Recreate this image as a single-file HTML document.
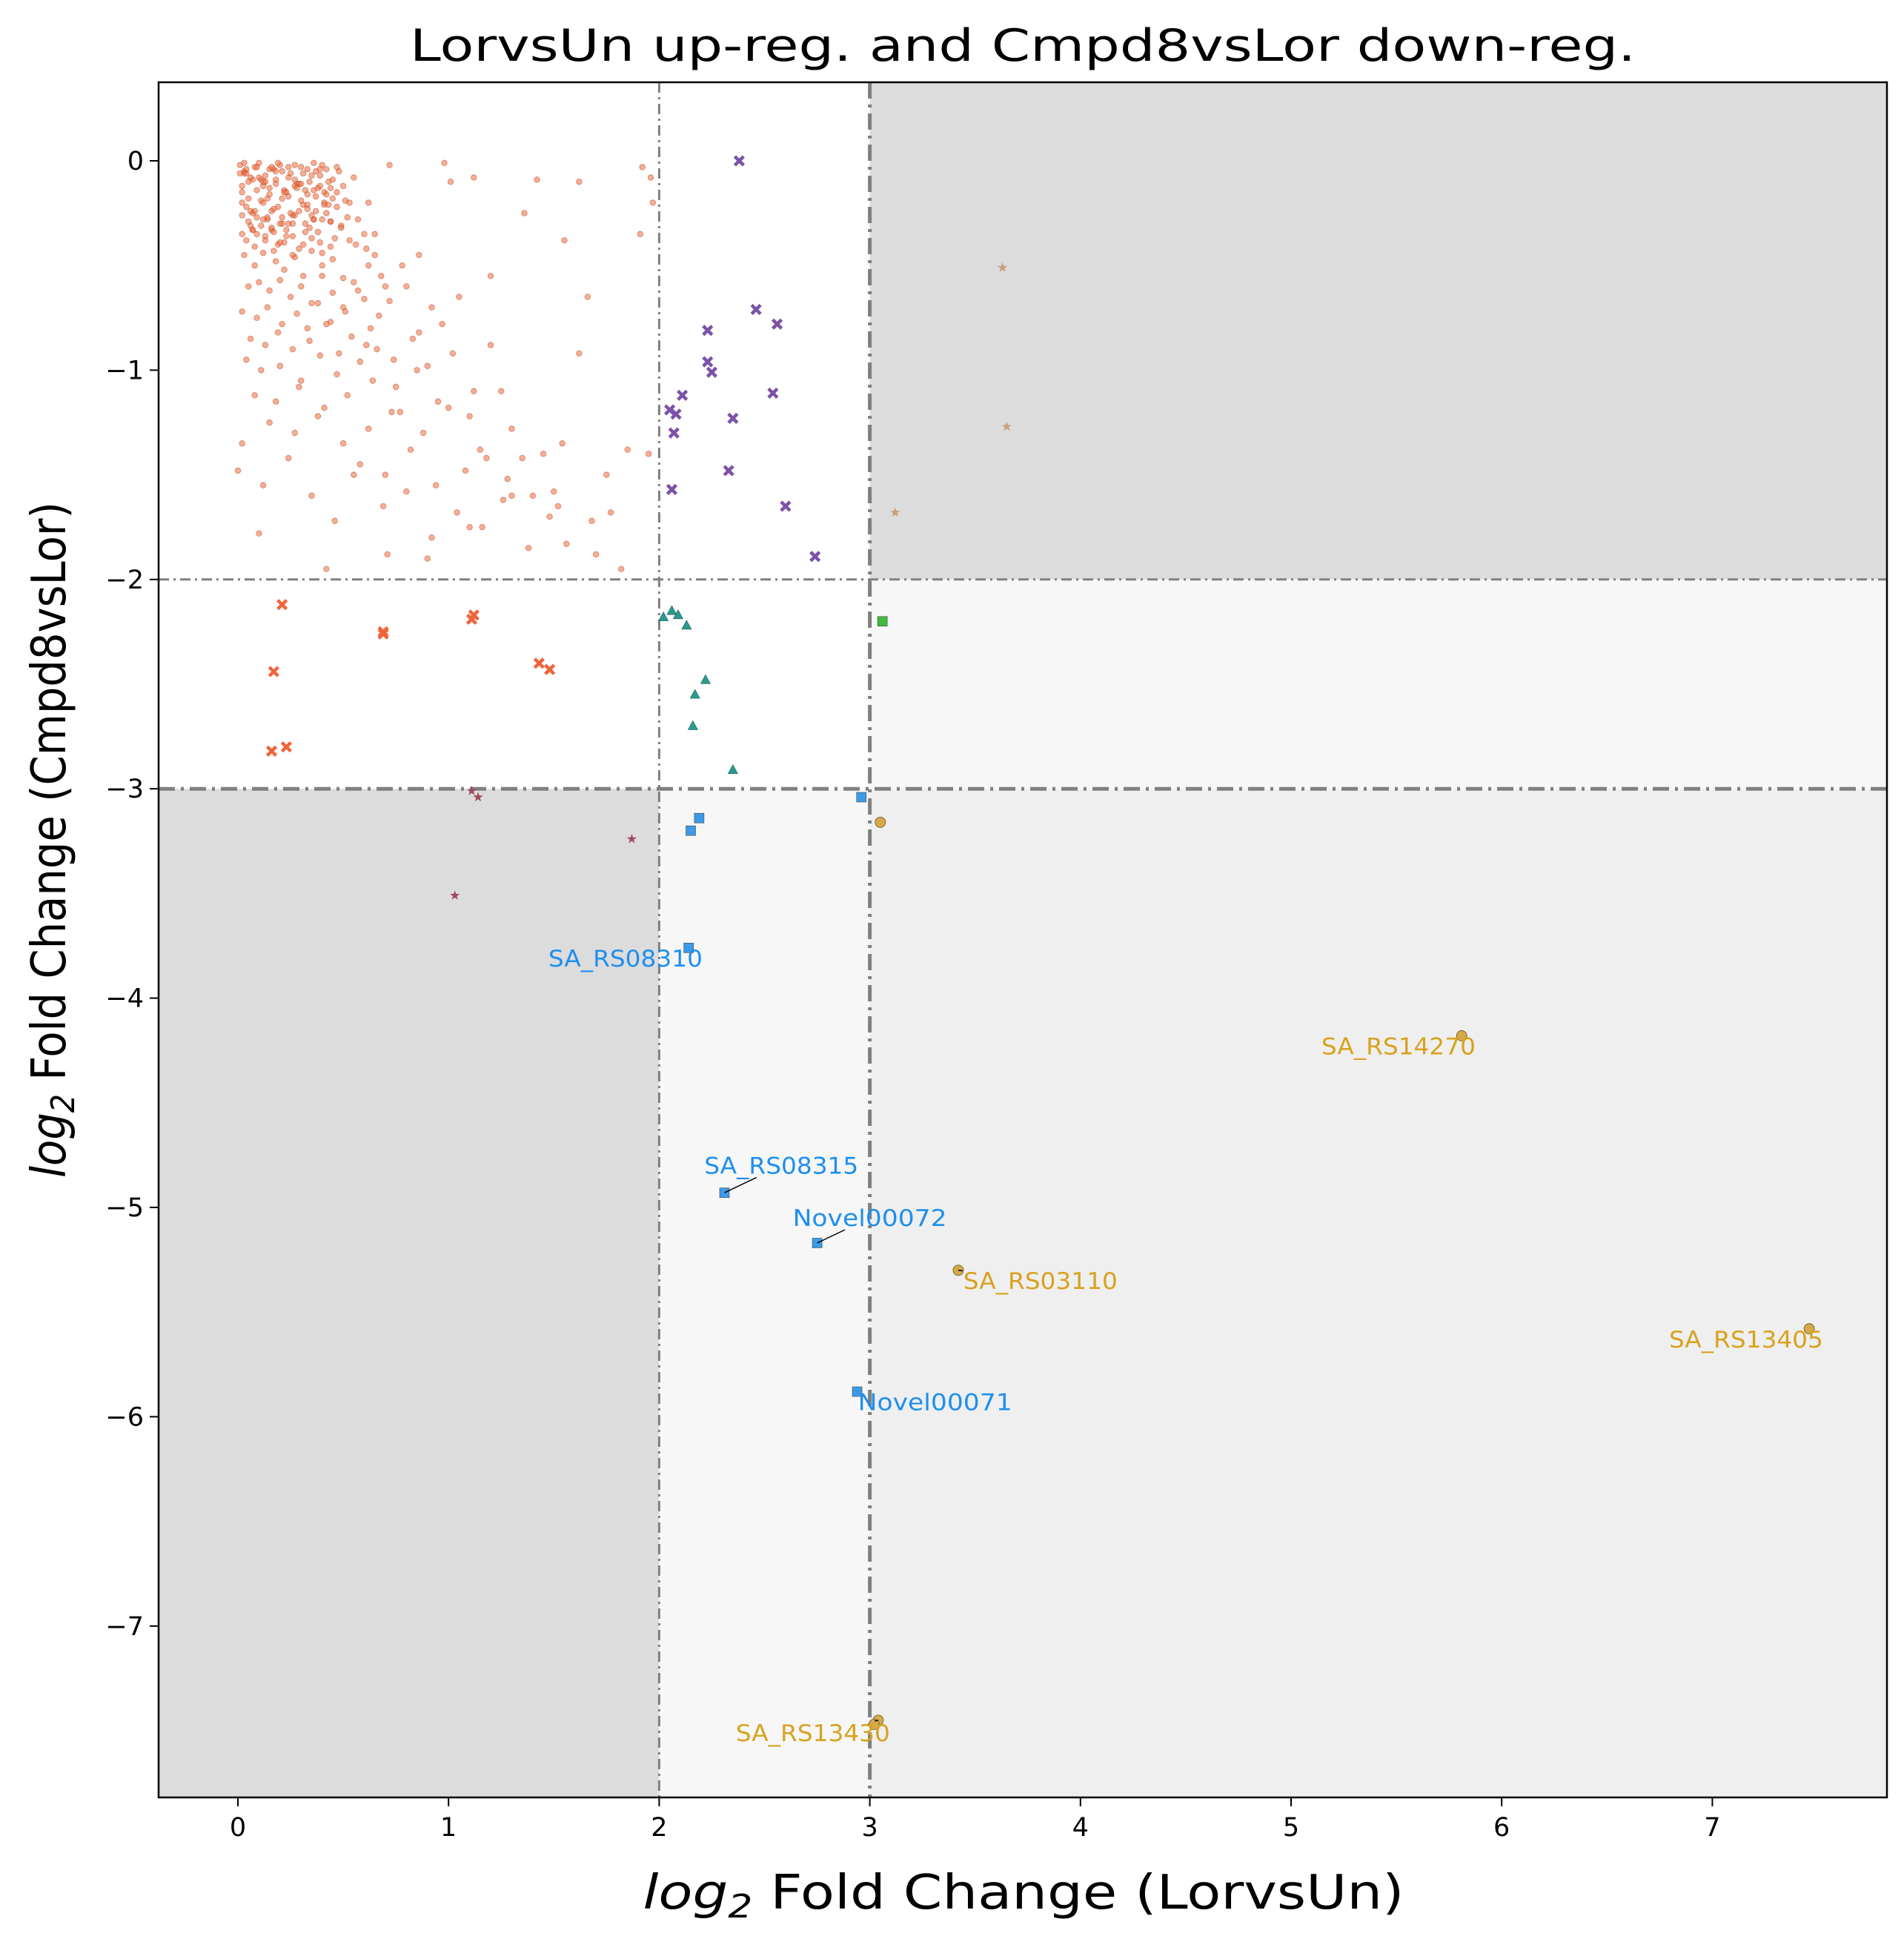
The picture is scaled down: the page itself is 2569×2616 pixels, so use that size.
<!DOCTYPE html>
<html><head><meta charset="utf-8"><style>
html,body{margin:0;padding:0;background:#fff}
svg{display:block;font-family:"DejaVu Sans","Liberation Sans",sans-serif}
</style></head><body>
<svg id="chart" width="2569" height="2616" viewBox="0 0 2569 2616" xmlns="http://www.w3.org/2000/svg">
<rect width="2569" height="2616" fill="#fff"/>
<g id="regions"></g>
<g id="guides"></g>
<g id="marks"></g>
<g id="labels"></g>
<rect x="214" y="111" width="2332" height="2314" fill="none" stroke="#000" stroke-width="2.5"/>
<g id="axes"></g>
<text x="1380" y="82" font-size="60" text-anchor="middle" textLength="1654" lengthAdjust="spacingAndGlyphs">LorvsUn up-reg. and Cmpd8vsLor down-reg.</text>
<text x="1381" y="2575" font-size="64" text-anchor="middle" textLength="1027" lengthAdjust="spacingAndGlyphs"><tspan font-style="italic">log</tspan><tspan font-size="44" dy="12" font-style="italic">2</tspan><tspan dy="-12"> Fold Change (LorvsUn)</tspan></text>
<text transform="translate(88,1133) rotate(-90)" font-size="64" text-anchor="middle" textLength="912" lengthAdjust="spacingAndGlyphs"><tspan font-style="italic">log</tspan><tspan font-size="44" dy="12" font-style="italic">2</tspan><tspan dy="-12"> Fold Change (Cmpd8vsLor)</tspan></text>
</svg>
<script>
const xTicks=[0,1,2,3,4,5,6,7];
const yTicks=[0,-1,-2,-3,-4,-5,-6,-7];
const bgX=[0.01,0.03,0.05,0.02,0.08,0.1,0.12,0.15,0.18,0.2,0.22,0.25,0.28,0.3,0.33,0.35,0.38,0.4,0.43,0.45,0.48,0.5,0.53,0.55,0.04,0.07,0.11,0.14,0.17,0.21,0.24,0.27,0.31,0.34,0.37,0.41,0.44,0.47,0.02,0.06,0.09,0.13,0.16,0.19,0.23,0.26,0.29,0.32,0.36,0.39,0.42,0.46,0.49,0.52,0.03,0.08,0.12,0.18,0.22,0.27,0.31,0.35,0.4,0.45,0.5,0.56,0.6,0.62,0.05,0.1,0.15,0.2,0.25,0.3,0.35,0.4,0.45,0.5,0.55,0.6,0.65,0.7,0.02,0.09,0.14,0.21,0.28,0.33,0.38,0.44,0.51,0.57,0.63,0.68,0.72,0.78,0.06,0.13,0.19,0.26,0.34,0.42,0.48,0.54,0.61,0.67,0.74,0.8,0.86,0.92,0.04,0.11,0.2,0.3,0.39,0.47,0.58,0.66,0.75,0.83,0.9,0.97,1.05,1.12,0.08,0.18,0.29,0.41,0.52,0.64,0.73,0.85,0.95,1.02,1.1,1.2,1.3,0.15,0.27,0.38,0.5,0.62,0.77,0.88,1.0,1.15,1.25,1.35,1.45,0.58,0.7,0.82,0.94,1.08,1.18,1.28,1.4,1.52,1.62,0.0,0.02,0.12,0.24,0.35,0.46,0.55,0.69,0.8,0.92,1.04,1.16,1.26,1.38,1.48,1.56,1.7,1.82,1.95,0.1,0.42,0.71,0.9,1.1,1.3,1.5,1.75,1.85,1.91,1.36,1.62,0.62,0.86,1.2,1.54,1.77,1.68,1.66,1.97,1.96,1.55,1.92,0.72,0.47,1.01,1.42,1.12,0.98,0.03,0.17,0.33,0.27,0.06,0.14,0.24,0.37,0.21,0.09,0.44,0.51,0.29,0.19,0.07,0.39,0.13,0.26,0.32,0.04,0.16,0.41,0.23,0.36,0.11];
const bgY=[-0.02,-0.05,-0.1,-0.15,-0.03,-0.08,-0.12,-0.04,-0.09,-0.02,-0.14,-0.06,-0.11,-0.03,-0.16,-0.07,-0.13,-0.02,-0.1,-0.18,-0.05,-0.12,-0.2,-0.08,-0.22,-0.25,-0.19,-0.28,-0.23,-0.3,-0.17,-0.26,-0.21,-0.32,-0.24,-0.15,-0.29,-0.22,-0.35,-0.31,-0.27,-0.38,-0.33,-0.4,-0.36,-0.3,-0.42,-0.34,-0.28,-0.39,-0.25,-0.37,-0.31,-0.27,-0.45,-0.5,-0.44,-0.48,-0.52,-0.46,-0.55,-0.43,-0.5,-0.47,-0.56,-0.4,-0.35,-0.5,-0.6,-0.58,-0.62,-0.57,-0.65,-0.6,-0.68,-0.55,-0.63,-0.7,-0.58,-0.66,-0.45,-0.6,-0.72,-0.75,-0.7,-0.78,-0.73,-0.8,-0.68,-0.77,-0.72,-0.62,-0.8,-0.55,-0.67,-0.5,-0.85,-0.88,-0.82,-0.9,-0.86,-0.78,-0.92,-0.84,-0.88,-0.74,-0.95,-0.6,-0.82,-0.7,-0.95,-1.0,-0.98,-1.05,-0.93,-1.02,-0.96,-0.9,-1.08,-0.85,-0.98,-0.78,-0.65,-1.1,-1.12,-1.15,-1.08,-1.18,-1.12,-1.05,-1.2,-1.0,-1.15,-0.92,-1.22,-0.88,-1.28,-1.25,-1.3,-1.22,-1.35,-1.28,-1.2,-1.3,-1.18,-1.38,-1.1,-1.42,-1.4,-1.45,-1.5,-1.38,-1.55,-1.48,-1.42,-1.52,-1.6,-1.65,-0.92,-1.48,-1.35,-1.55,-1.42,-1.6,-1.72,-1.5,-1.65,-1.58,-1.8,-1.68,-1.75,-1.62,-1.85,-1.7,-1.83,-1.88,-1.95,-1.4,-1.78,-1.95,-1.88,-1.9,-1.75,-1.6,-1.58,-1.5,-1.38,-0.35,-0.25,-0.1,-0.2,-0.45,-0.55,-1.35,-1.68,-1.72,-0.65,-0.2,-0.08,-0.38,-0.03,-0.02,-0.03,-0.1,-0.09,-0.08,-0.01,-0.06,-0.04,-0.21,-0.12,-0.24,-0.18,-0.3,-0.05,-0.27,-0.35,-0.13,-0.19,-0.11,-0.01,-0.33,-0.04,-0.1,-0.26,-0.14,-0.06,-0.32,-0.2,-0.15,-0.28,-0.09,-0.22,-0.17,-0.07,-0.36,-0.25];
const clX=[0.01,0.02,0.04,0.05,0.07,0.09,0.1,0.12,0.13,0.15,
0.16,0.18,0.19,0.21,0.22,0.24,0.25,0.27,0.28,0.3,
0.31,0.33,0.34,0.36,0.37,0.39,0.4,0.42,0.43,0.45,
0.02,0.05,0.08,0.11,0.14,0.17,0.2,0.23,0.26,0.29,
0.32,0.35,0.38,0.41,0.44,0.47,0.03,0.06,0.09,0.12,
0.15,0.18,0.21,0.24,0.27,0.3,0.33,0.36,0.39,0.42,
0.04,0.08,0.13,0.17,0.22,0.26,0.31,0.35,0.4,0.44,
0.49,0.53,0.57,0.61,0.65,0.02,0.07,0.12,0.16,0.2];
const clY=[-0.06,-0.12,-0.04,-0.18,-0.09,-0.14,-0.01,-0.2,-0.07,-0.16,
-0.03,-0.11,-0.22,-0.05,-0.15,-0.08,-0.25,-0.02,-0.13,-0.19,
-0.06,-0.23,-0.1,-0.01,-0.17,-0.12,-0.28,-0.04,-0.21,-0.09,
-0.26,-0.29,-0.24,-0.31,-0.27,-0.34,-0.3,-0.33,-0.36,-0.24,
-0.3,-0.26,-0.34,-0.21,-0.29,-0.15,-0.01,-0.08,-0.03,-0.1,
-0.13,-0.05,-0.18,-0.03,-0.09,-0.11,-0.04,-0.14,-0.07,-0.16,
-0.38,-0.41,-0.36,-0.43,-0.39,-0.45,-0.4,-0.37,-0.44,-0.41,
-0.32,-0.38,-0.28,-0.42,-0.35,-0.2,-0.33,-0.28,-0.24,-0.39];
const upX=[0.21,0.17,0.16,0.23,0.69,0.69,1.11,1.12,1.43,1.48];
const upY=[-2.12,-2.44,-2.82,-2.80,-2.25,-2.26,-2.19,-2.17,-2.40,-2.43];
const purX=[2.38,2.46,2.23,2.56,2.23,2.25,2.54,2.11,2.05,2.08,2.35,2.07,2.33,2.06,2.60,2.74];
const purY=[0,-0.71,-0.81,-0.78,-0.96,-1.01,-1.11,-1.12,-1.19,-1.21,-1.23,-1.30,-1.48,-1.57,-1.65,-1.89];
const tanX=[3.63,3.65,3.12];
const tanY=[-0.51,-1.27,-1.68];
const triX=[2.02,2.06,2.09,2.13,2.22,2.17,2.16,2.35];
const triY=[-2.18,-2.15,-2.17,-2.22,-2.48,-2.55,-2.70,-2.91];
const grnX=[3.06];
const grnY=[-2.20];
const marX=[1.11,1.14,1.87,1.03];
const marY=[-3.01,-3.04,-3.24,-3.51];
const bluX=[2.96,2.19,2.15,2.14,2.31,2.75,2.94];
const bluY=[-3.04,-3.14,-3.20,-3.76,-4.93,-5.17,-5.88];
const gldX=[3.05,5.81,3.42,7.46,3.04,3.02];
const gldY=[-3.16,-4.18,-5.30,-5.58,-7.45,-7.47];
const blueLabels=["SA_RS08310","SA_RS08315","Novel00072","Novel00071"];
const blueLabelX=[1.84,2.58,3.0,3.31];
const blueLabelY=[-3.81,-4.80,-5.05,-5.93];
const blueLabelPt=[3,4,5,6];
const goldLabels=["SA_RS14270","SA_RS03110","SA_RS13405","SA_RS13430"];
const goldLabelX=[5.51,3.81,7.16,2.73];
const goldLabelY=[-4.23,-5.35,-5.63,-7.51];
const goldLabelPt=[1,2,3,4];

const NS="http://www.w3.org/2000/svg";
const X=v=>321+284.2*v, Y=v=>217-282.4*v;
const L=214,T=111,R=2546,B=2425;
function mk(tag,parent,attrs){const e=document.createElementNS(NS,tag);for(const k in attrs)e.setAttribute(k,attrs[k]);parent.appendChild(e);return e;}
const reg=document.getElementById('regions'),gd=document.getElementById('guides'),mg=document.getElementById('marks'),lg=document.getElementById('labels'),ax=document.getElementById('axes');
function rect(x1,y1,x2,y2,f,n){const r=mk('rect',reg,{x:x1,y:y1,width:x2-x1,height:y2-y1,fill:f});

}
rect(X(3),T,R,Y(-2),'#dcdcdc','region-upper-right');
rect(L,Y(-3),X(2),B,'#dcdcdc','region-lower-left');
rect(X(2),Y(-3),X(3),B,'#f7f7f7','region-lower-mid');
rect(X(3),Y(-2),R,Y(-3),'#f7f7f7','region-right-mid');
rect(X(3),Y(-3),R,B,'#efefef','region-lower-right');
function line(x1,y1,x2,y2,w,n){const l=mk('line',gd,{x1,y1,x2,y2,stroke:'#808080','stroke-width':w,'stroke-dasharray':w>3?'22 8 4 8':'14 6 3 6'});

}
line(X(2),T,X(2),B,3,'x-threshold-2');
line(X(3),T,X(3),B,5,'x-threshold-3');
line(L,Y(-2),R,Y(-2),3,'y-threshold-2');
line(L,Y(-3),R,Y(-3),5,'y-threshold-3');
function dots(xs,ys){const n=Math.min(xs.length,ys.length);for(let i=0;i<n;i++){const c=mk('circle',mg,{cx:X(xs[i]),cy:Y(ys[i]),r:3.8,fill:'#f26b3a','fill-opacity':0.55,stroke:'#a03010','stroke-opacity':0.5,'stroke-width':0.8});

}}
dots(bgX,bgY);
dots(clX,clY);
function cross(xs,ys,col,n){for(let i=0;i<xs.length;i++){const x=X(xs[i]),y=Y(ys[i]),s=6;const p=mk('path',mg,{d:`M${x-s},${y-s}L${x+s},${y+s}M${x-s},${y+s}L${x+s},${y-s}`,stroke:col,'stroke-width':4.5});

}}
cross(upX,upY,'#f0643a','downreg-point');
cross(purX,purY,'#7b52a8','purple-point');
function star(xs,ys,col,n){for(let i=0;i<xs.length;i++){const x=X(xs[i]),y=Y(ys[i]);let d='';for(let k=0;k<10;k++){const r=k%2?2.8:7,a=-Math.PI/2+k*Math.PI/5;d+=(k?'L':'M')+(x+r*Math.cos(a))+','+(y+r*Math.sin(a));}
const p=mk('path',mg,{d:d+'Z',fill:col});

}}
star(tanX,tanY,'#c8a07a','tan-star-point');
star(marX,marY,'#a24a5e','maroon-star-point');
for(let i=0;i<triX.length;i++){const x=X(triX[i]),y=Y(triY[i]);const p=mk('path',mg,{d:`M${x},${y-7}L${x+6.5},${y+5}L${x-6.5},${y+5}Z`,fill:'#2a9a8e',stroke:'#1a5a55','stroke-width':0.6});

}
function sq(xs,ys,col,n){for(let i=0;i<xs.length;i++){const r=mk('rect',mg,{x:X(xs[i])-6.5,y:Y(ys[i])-6.5,width:13,height:13,fill:col,stroke:'#444','stroke-width':0.6});

}}
sq(grnX,grnY,'#3dbb3d','green-square-point');
sq(bluX,bluY,'#3c9be8','blue-square-point');
for(let i=0;i<gldX.length;i++){const c=mk('circle',mg,{cx:X(gldX[i]),cy:Y(gldY[i]),r:7,fill:'#d4a94a',stroke:'#6b5520','stroke-width':0.8});

}
function labs(names,lx,ly,pt,px,py,col,n){for(let i=0;i<names.length;i++){const tx=X(lx[i]),ty=Y(ly[i]);
const ax0=X(px[pt[i]]),ay0=Y(py[pt[i]]);
const hw=105,hh=16,dx=ax0-tx,dy=ay0-ty;
if(Math.abs(dx)>hw||Math.abs(dy)>hh){const s=Math.min(hw/Math.abs(dx||1e-6),hh/Math.abs(dy||1e-6));
const l=mk('line',lg,{x1:ax0,y1:ay0,x2:tx+dx*s,y2:ty+dy*s,stroke:'#000','stroke-width':1.5});

}
const t=mk('text',lg,{x:tx,y:ty+11,'font-size':31,'text-anchor':'middle',fill:col,textLength:208,lengthAdjust:'spacingAndGlyphs'});t.textContent=names[i];

}}
labs(blueLabels,blueLabelX,blueLabelY,blueLabelPt,bluX,bluY,'#1e8ff0','blue-gene-label');
labs(goldLabels,goldLabelX,goldLabelY,goldLabelPt,gldX,gldY,'#d8a21e','gold-gene-label');
for(const v of xTicks){const x=X(v);mk('line',ax,{x1:x,y1:B,x2:x,y2:B+12,stroke:'#000','stroke-width':2});
const t=mk('text',ax,{x:x,y:B+52,'font-size':35,'text-anchor':'middle'});t.textContent=String(v);

}
for(const v of yTicks){const y=Y(v);mk('line',ax,{x1:L-12,y1:y,x2:L,y2:y,stroke:'#000','stroke-width':2});
const t=mk('text',ax,{x:L-20,y:y+12,'font-size':35,'text-anchor':'end'});t.textContent=v<0?'\u2212'+(-v):String(v);

}
</script>
</body></html>
